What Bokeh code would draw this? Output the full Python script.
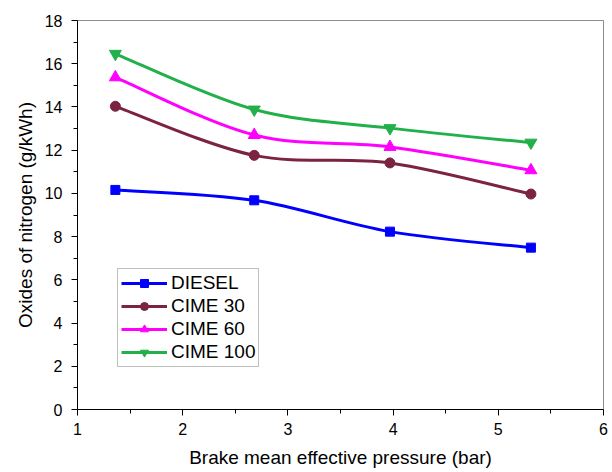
from bokeh.plotting import figure
from bokeh.models import FixedTicker, Legend, LegendItem
from bokeh.embed import file_html
from bokeh.resources import INLINE

# Data
bmep = [1.36, 2.68, 3.97, 5.31]
diesel = [10.16, 9.68, 8.23, 7.49]
cime30 = [14.03, 11.76, 11.41, 9.97]
cime60 = [15.37, 12.70, 12.15, 11.07]
cime100 = [16.46, 13.88, 13.02, 12.35]

series_names = ["DIESEL", "CIME 30", "CIME 60", "CIME 100"]
x_ticks = [1, 2, 3, 4, 5, 6]
y_ticks = [0, 2, 4, 6, 8, 10, 12, 14, 16, 18]

FONT = "Liberation Sans"

p = figure(width=608, height=470, x_range=(1, 6), y_range=(0, 18),
           output_backend="svg", toolbar_location=None,
           min_border_left=77, min_border_top=20, min_border_right=5,
           min_border_bottom=58)
p.grid.visible = False
p.outline_line_color = "#8c8c8c"
p.outline_line_width = 1
p.background_fill_color = "white"
p.border_fill_color = "white"

p.xaxis.ticker = FixedTicker(ticks=x_ticks, minor_ticks=[1.5, 2.5, 3.5, 4.5, 5.5])
p.yaxis.ticker = FixedTicker(ticks=y_ticks, minor_ticks=[1, 3, 5, 7, 9, 11, 13, 15, 17])
for ax in (p.xaxis[0], p.yaxis[0]):
    ax.major_tick_in = 0
    ax.major_tick_out = 6
    ax.minor_tick_in = 0
    ax.minor_tick_out = 4
    ax.axis_line_color = "black"
    ax.major_tick_line_color = "black"
    ax.minor_tick_line_color = "black"
    ax.major_label_text_font = FONT
    ax.major_label_text_font_size = "16px"
    ax.major_label_text_color = "black"
    ax.axis_label_text_font = FONT
    ax.axis_label_text_font_size = "19px"
    ax.axis_label_text_font_style = "normal"
    ax.axis_label_text_color = "black"

p.xaxis.axis_label = "Brake mean effective pressure (bar)"
p.yaxis.axis_label = "Oxides of nitrogen (g/kWh)"
p.xaxis.major_label_standoff = 7
p.xaxis.axis_label_standoff = 9
p.yaxis.major_label_standoff = 9
p.yaxis.axis_label_standoff = 6


def bezier_controls(xs, ys):
    n = len(xs)
    x0, y0, x1, y1, cx0, cy0, cx1, cy1 = ([] for _ in range(8))
    for i in range(n - 1):
        im1 = max(i - 1, 0)
        ip2 = min(i + 2, n - 1)
        x0.append(xs[i]); y0.append(ys[i])
        x1.append(xs[i + 1]); y1.append(ys[i + 1])
        cx0.append(xs[i] + (xs[i + 1] - xs[im1]) / 6.0)
        cy0.append(ys[i] + (ys[i + 1] - ys[im1]) / 6.0)
        cx1.append(xs[i + 1] - (xs[ip2] - xs[i]) / 6.0)
        cy1.append(ys[i + 1] - (ys[ip2] - ys[i]) / 6.0)
    return dict(x0=x0, y0=y0, x1=x1, y1=y1, cx0=cx0, cy0=cy0, cx1=cx1, cy1=cy1)


styles = [
    ("#0000ff", "square", 9),
    ("#7b2340", "circle", 10),
    ("#ff00ff", "triangle", 12),
    ("#22b04b", "inverted_triangle", 12),
]
values = [diesel, cime30, cime60, cime100]

items = []
for name, ys, (color, marker, size) in zip(series_names, values, styles):
    c = bezier_controls(bmep, ys)
    r1 = p.bezier(x0=c["x0"], y0=c["y0"], x1=c["x1"], y1=c["y1"],
                  cx0=c["cx0"], cy0=c["cy0"], cx1=c["cx1"], cy1=c["cy1"],
                  line_color=color, line_width=3)
    r2 = p.scatter(bmep, ys, marker=marker, size=size, fill_color=color,
                   line_color=color)
    items.append(LegendItem(label=name, renderers=[r1, r2]))

legend = Legend(items=items, location=(40, 42), margin=0,
                label_text_font=FONT, label_text_font_size="19px",
                label_text_color="black",
                glyph_width=46, glyph_height=20, label_height=20,
                label_standoff=4, spacing=1, padding=3,
                border_line_color="#808080", border_line_width=1,
                background_fill_alpha=1.0)
p.add_layout(legend, "center")

open("out.html", "w").write(file_html(p, INLINE))
